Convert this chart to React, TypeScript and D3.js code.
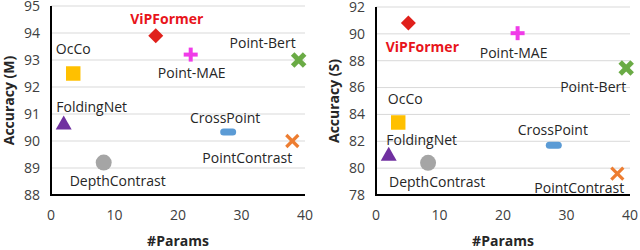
import { scaleLinear, symbol, symbolCircle, symbolSquare, symbolTriangle } from 'd3';

// Two side-by-side scatter plots: accuracy vs. #params for point-cloud methods.

const methods = ['ViPFormer', 'Point-MAE', 'Point-Bert', 'OcCo', 'FoldingNet', 'CrossPoint', 'PointContrast', 'DepthContrast'];
const paramsM = [16.5, 22, 39, 3.5, 2, 27.9, 38, 8.3];
const accM = [93.9, 93.2, 93.0, 92.5, 90.6, 90.33, 90.0, 89.2];
const paramsS = [5.1, 22.3, 39.4, 3.5, 2, 28, 38, 8.2];
const accS = [90.8, 90.05, 87.45, 83.4, 80.9, 81.7, 79.6, 80.4];

const xTicks = [0, 10, 20, 30, 40];
const yTicksM = [88, 89, 90, 91, 92, 93, 94, 95];
const yTicksS = [78, 80, 82, 84, 86, 88, 90, 92];

type Mark = 'diamond' | 'plus' | 'xbold' | 'square' | 'triangle' | 'bar' | 'x' | 'circle';
const marks: Mark[] = ['diamond', 'plus', 'xbold', 'square', 'triangle', 'bar', 'x', 'circle'];
const colors = ['#E0201B', '#F03CE8', '#6AAB45', '#FFC000', '#7030A0', '#5B9BD5', '#ED7D31', '#A5A5A5'];

// label placement (px offsets from the marker centre)
const labelOffM: [number, number][] = [[11, -17], [1, 18], [-36, -17], [0, -24], [28, -18], [-3, -14], [-45, 17], [14, 18]];
const labelOffS: [number, number][] = [[14, 24], [-4, 20], [-33, 19], [7, -23], [33, -16], [-1, -15], [-38, 15], [9, 19]];

const FONT = '"Open Sans", "Noto Sans", sans-serif';

function Marker({ type, color, x, y }: { type: Mark; color: string; x: number; y: number }) {
  const t = `translate(${x},${y})`;
  switch (type) {
    case 'diamond':
      return <path transform={t} d="M0,-7.5L7.5,0L0,7.5L-7.5,0Z" fill={color} />;
    case 'square':
      return <path transform={t} d={symbol(symbolSquare, 210)() ?? undefined} fill={color} />;
    case 'triangle':
      return <path transform={t} d={symbol(symbolTriangle, 110)() ?? undefined} fill={color} />;
    case 'circle':
      return <path transform={t} d={symbol(symbolCircle, 200)() ?? undefined} fill={color} />;
    case 'bar':
      return <rect x={x - 8} y={y - 3.5} width={16} height={7} rx={3.5} fill={color} />;
    case 'plus':
      return (
        <g transform={t} stroke={color} strokeWidth={4}>
          <line x1={-7} x2={7} y1={0} y2={0} />
          <line x1={0} x2={0} y1={-7} y2={7} />
        </g>
      );
    case 'xbold':
      return (
        <g transform={t} stroke={color} strokeWidth={5}>
          <line x1={-6} x2={6} y1={-6} y2={6} />
          <line x1={-6} x2={6} y1={6} y2={-6} />
        </g>
      );
    case 'x':
      return (
        <g transform={t} stroke={color} strokeWidth={3.2}>
          <line x1={-6} x2={6} y1={-6} y2={6} />
          <line x1={-6} x2={6} y1={6} y2={-6} />
        </g>
      );
  }
}

function Panel({
  xRange,
  yRange,
  yDomain,
  yTicks,
  xs,
  ys,
  offsets,
  title,
}: {
  xRange: [number, number];
  yRange: [number, number];
  yDomain: [number, number];
  yTicks: number[];
  xs: number[];
  ys: number[];
  offsets: [number, number][];
  title: string;
}) {
  const x = scaleLinear().domain([0, 40]).range(xRange);
  const y = scaleLinear().domain(yDomain).range(yRange);
  const [x0, x1] = xRange;
  const yBottom = yRange[0];
  return (
    <g fontFamily={FONT}>
      {yTicks.map((t) => (
        <g key={t}>
          {t !== yDomain[0] && <line x1={x0} x2={x1} y1={y(t)} y2={y(t)} stroke="#D9D9D9" strokeWidth={1} />}
          <text x={x0 - 11} y={y(t)} dy="0.35em" textAnchor="end" fontSize={14} fill="#404040">
            {t}
          </text>
        </g>
      ))}
      {xTicks.map((t) => (
        <text key={t} x={x(t)} y={yBottom + 20} dy="0.35em" textAnchor="middle" fontSize={14} fill="#404040">
          {t}
        </text>
      ))}
      <line x1={x0} x2={x0} y1={y(yDomain[1])} y2={yBottom} stroke="#000" strokeWidth={2} />
      <line x1={x0 - 1} x2={x1} y1={yBottom} y2={yBottom} stroke="#000" strokeWidth={2} />
      <text x={(x0 + x1) / 2} y={yBottom + 46} dy="0.35em" textAnchor="middle" fontSize={14} fontWeight={700} fill="#262626">
        #Params
      </text>
      <text
        transform={`translate(${x0 - 42},${(yRange[0] + yRange[1]) / 2}) rotate(-90)`}
        dy="0.35em"
        textAnchor="middle"
        fontSize={14}
        fontWeight={700}
        fill="#262626"
      >
        {title}
      </text>
      {methods.map((m, i) => {
        const px = x(xs[i]);
        const py = y(ys[i]);
        const red = i === 0;
        return (
          <g key={m}>
            <Marker type={marks[i]} color={colors[i]} x={px} y={py} />
            <text
              x={px + offsets[i][0]}
              y={py + offsets[i][1]}
              dy="0.35em"
              textAnchor="middle"
              fontSize={14}
              fontWeight={red ? 700 : 400}
              fill={red ? '#E8141B' : '#262626'}
            >
              {m}
            </text>
          </g>
        );
      })}
    </g>
  );
}

export default function App() {
  return (
    <svg width={640} height={250} style={{ position: 'absolute', left: 0, top: 0, background: '#fff' }}>
      <rect width={640} height={250} fill="#fff" />
      <Panel xRange={[51, 305]} yRange={[195, 6]} yDomain={[88, 95]} yTicks={yTicksM} xs={paramsM} ys={accM} offsets={labelOffM} title="Accuracy (M)" />
      <Panel xRange={[376, 630]} yRange={[195, 7]} yDomain={[78, 92]} yTicks={yTicksS} xs={paramsS} ys={accS} offsets={labelOffS} title="Accuracy (S)" />
    </svg>
  );
}
